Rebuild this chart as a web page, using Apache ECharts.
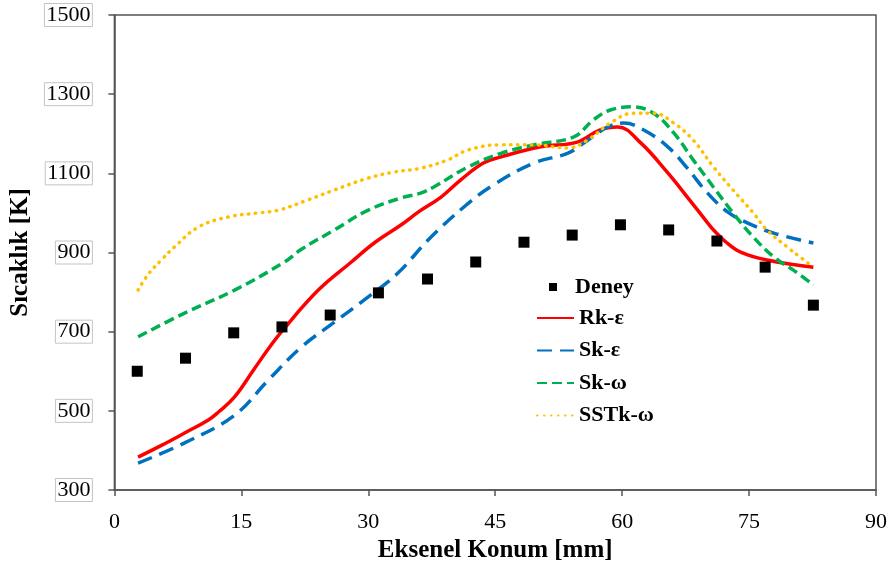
<!DOCTYPE html>
<html>
<head>
<meta charset="utf-8">
<script src="https://cdn.jsdelivr.net/npm/echarts@6/dist/echarts.min.js"></script>
<style>
  html, body { margin: 0; padding: 0; background: #fff; }
  #chart { width: 892px; height: 576px; }
</style>
</head>
<body>
<div id="chart"></div>
<script>
// Axial temperature profiles: measurements and four turbulence models
const xTicks = [0, 15, 30, 45, 60, 75, 90];
const yTicks = [300, 500, 700, 900, 1100, 1300, 1500];

// Measurements (Deney)
const deneyX = [2.7, 8.4, 14.1, 19.8, 25.5, 31.2, 37.0, 42.7, 48.4, 54.1, 59.8, 65.5, 71.2, 76.9, 82.6];
const deneyT = [600, 633, 697, 712, 742, 798, 833, 876, 926, 944, 970, 957, 929, 863, 767];

// Realizable k-epsilon
const rkX = [2.8, 5.5, 8.3, 11.1, 12.3, 14.2, 16.5, 18.2, 19.9, 24.1, 28.0, 30.7, 33.9, 35.9, 38.6, 40.9, 43.6, 45.6, 50.4, 54.7, 57.4, 59.5, 62.2, 65.4, 67.7, 70.1, 70.8, 72.4, 74.0, 77.1, 82.6];
const rkT = [383, 412, 444, 477, 497, 535, 605, 657, 704, 805, 876, 924, 970, 1002, 1040, 1083, 1126, 1141, 1167, 1179, 1210, 1217, 1177, 1101, 1040, 975, 957, 924, 901, 881, 863];

// Standard k-epsilon
const skeX = [2.8, 8.3, 14.2, 18.2, 22.1, 26.0, 30.0, 33.5, 37.1, 41.3, 44.8, 49.6, 53.6, 55.5, 58.3, 60.2, 62.5, 65.4, 67.7, 70.1, 72.5, 74.8, 77.9, 82.6];
const skeT = [368, 419, 489, 578, 661, 724, 788, 848, 932, 1015, 1071, 1126, 1151, 1177, 1217, 1227, 1210, 1167, 1113, 1050, 1002, 975, 949, 924];

// Standard k-omega
const skwX = [2.8, 8.3, 14.2, 20.1, 22.1, 26.0, 30.0, 33.9, 36.2, 37.7, 41.8, 45.6, 49.6, 54.3, 56.6, 58.6, 61.3, 63.7, 66.1, 68.4, 70.8, 73.1, 75.5, 77.9, 80.2, 82.6];
const skwT = [687, 747, 805, 876, 908, 957, 1007, 1038, 1050, 1065, 1116, 1150, 1172, 1192, 1235, 1260, 1268, 1252, 1202, 1134, 1065, 1000, 939, 889, 856, 818];

// SST k-omega
const sstX = [2.8, 4.0, 5.5, 7.1, 9.9, 13.5, 17.0, 19.4, 22.9, 26.0, 30.0, 33.0, 36.2, 39.4, 41.8, 45.6, 49.6, 53.6, 55.9, 58.6, 61.3, 63.7, 66.1, 68.4, 70.8, 73.1, 75.5, 77.1, 79.5, 81.0, 82.6];
const sstT = [805, 845, 880, 914, 964, 990, 1000, 1007, 1033, 1058, 1088, 1103, 1113, 1134, 1159, 1172, 1172, 1164, 1184, 1227, 1252, 1252, 1227, 1184, 1116, 1058, 1000, 957, 914, 889, 863];

const pairs = (xs, ys) => xs.map((x, i) => [x, ys[i]]);

const serif = '"Liberation Serif", "Times New Roman", serif';
const axisColor = '#555555';

const chart = echarts.init(document.getElementById('chart'), null, { renderer: 'canvas' });

chart.setOption({
  animation: false,
  backgroundColor: '#ffffff',
  grid: {
    left: 113, right: 16, top: 15, bottom: 86,
    show: true, borderColor: axisColor, borderWidth: 1.5, backgroundColor: 'transparent'
  },
  legend: [
    {
      data: ['Deney'],
      orient: 'vertical',
      left: 544, top: 271,
      itemWidth: 8, itemHeight: 8,
      icon: 'rect',
      textStyle: { fontFamily: serif, fontWeight: 'bold', fontSize: 22, color: '#000', padding: [0, 0, 0, 13] }
    },
    {
      data: ['Rk-ε', 'Sk-ε', 'Sk-ω', 'SSTk-ω'],
      orient: 'vertical',
      left: 531, top: 302,
      itemWidth: 37, itemHeight: 14,
      itemGap: 10.5,
      itemStyle: { opacity: 0 },
      textStyle: { fontFamily: serif, fontWeight: 'bold', fontSize: 22, color: '#000' }
    }
  ],
  xAxis: {
    type: 'value',
    min: xTicks[0], max: xTicks[xTicks.length - 1], interval: 15,
    name: 'Eksenel Konum [mm]',
    nameLocation: 'middle', nameGap: 42,
    nameTextStyle: { fontFamily: serif, fontWeight: 'bold', fontSize: 25, color: '#000' },
    axisLine: { show: true, lineStyle: { color: axisColor, width: 1.5 } },
    axisTick: { show: true, length: 6, lineStyle: { color: axisColor, width: 1.5 } },
    axisLabel: { fontFamily: serif, fontSize: 22, color: '#000', margin: 21, formatter: v => String(v) },
    splitLine: { show: false }
  },
  yAxis: {
    type: 'value',
    min: yTicks[0], max: yTicks[yTicks.length - 1], interval: 200,
    name: 'Sıcaklık [K]',
    nameLocation: 'middle', nameGap: 77,
    nameRotate: 90,
    nameTextStyle: { fontFamily: serif, fontWeight: 'bold', fontSize: 25, color: '#000' },
    axisLine: { show: true, lineStyle: { color: axisColor, width: 1.5 } },
    axisTick: { show: true, length: 6, lineStyle: { color: axisColor, width: 1.5 } },
    axisLabel: {
      fontFamily: serif, fontSize: 22, color: '#000', margin: 22,
      borderColor: '#c4c4c4', borderWidth: 1, padding: [1, 2, 0, 2],
      formatter: v => String(v)
    },
    splitLine: { show: false }
  },
  series: [
    {
      name: 'Deney', type: 'scatter',
      data: pairs(deneyX, deneyT),
      symbol: 'rect', symbolSize: 11,
      itemStyle: { color: '#000000', opacity: 1 },
      z: 5
    },
    {
      name: 'Rk-ε', type: 'line',
      data: pairs(rkX, rkT),
      smooth: 0.4, symbol: 'none',
      lineStyle: { color: '#ff0000', width: 3.5, type: 'solid' },
      itemStyle: { color: '#ff0000' }
    },
    {
      name: 'Sk-ε', type: 'line',
      data: pairs(skeX, skeT),
      smooth: 0.4, symbol: 'none',
      lineStyle: { color: '#0070c0', width: 3.5, type: [15, 8] },
      itemStyle: { color: '#0070c0' }
    },
    {
      name: 'Sk-ω', type: 'line',
      data: pairs(skwX, skwT),
      smooth: 0.4, symbol: 'none',
      lineStyle: { color: '#00b050', width: 3.5, type: [10, 5] },
      itemStyle: { color: '#00b050' }
    },
    {
      name: 'SSTk-ω', type: 'line',
      data: pairs(sstX, sstT),
      smooth: 0.4, symbol: 'none',
      lineStyle: { color: '#ffc000', width: 3.5, type: [0.5, 6.5], cap: 'round' },
      itemStyle: { color: '#ffc000' }
    }
  ]
});
</script>
</body>
</html>
